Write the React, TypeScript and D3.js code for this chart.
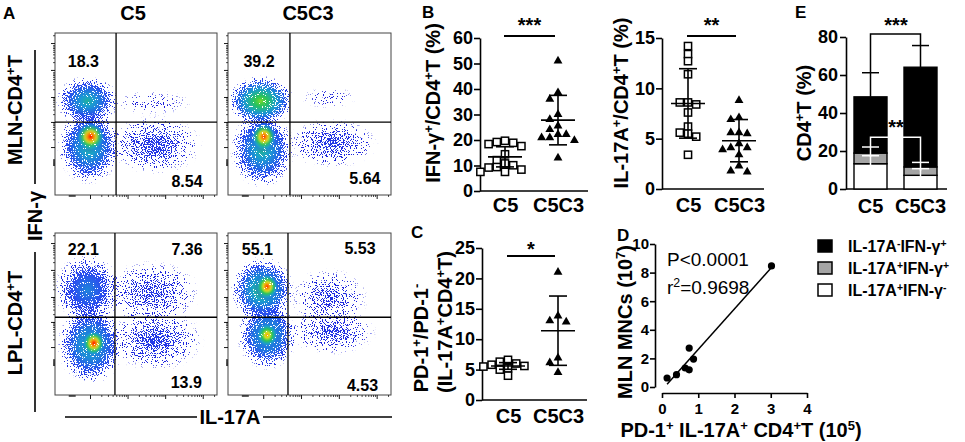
import { useEffect, useRef } from 'react'
import * as d3 from 'd3'

const FONT = "'Liberation Sans', Arial, Helvetica, sans-serif"

// ---------- A: flow plots, populations as [x, y, rx, ry, peak] in plot fractions
const flowGroups = ['C5', 'C5C3']
const mlnC5Pops = [
  [0.2, 0.58, 0.2, 0.16, 0.4],
  [0.21, 0.3, 0.2, 0.24, 0.42],
  [0.22, 0.36, 0.1, 0.1, 1.0],
  [0.62, 0.31, 0.3, 0.19, 0.12],
  [0.6, 0.57, 0.26, 0.08, 0.022],
]
const mlnC5C3Pops = [
  [0.2, 0.58, 0.21, 0.16, 0.58],
  [0.21, 0.28, 0.2, 0.24, 0.42],
  [0.22, 0.36, 0.09, 0.1, 0.95],
  [0.64, 0.32, 0.29, 0.16, 0.11],
  [0.62, 0.6, 0.18, 0.07, 0.022],
]
const lplC5Pops = [
  [0.2, 0.65, 0.21, 0.23, 0.28],
  [0.22, 0.31, 0.21, 0.25, 0.42],
  [0.24, 0.32, 0.08, 0.09, 1.0],
  [0.6, 0.63, 0.31, 0.21, 0.1],
  [0.62, 0.34, 0.31, 0.2, 0.12],
]
const lplC5C3Pops = [
  [0.21, 0.65, 0.2, 0.21, 0.48],
  [0.24, 0.37, 0.19, 0.22, 0.42],
  [0.24, 0.67, 0.08, 0.09, 0.95],
  [0.24, 0.37, 0.08, 0.09, 0.8],
  [0.62, 0.6, 0.25, 0.19, 0.085],
  [0.64, 0.39, 0.28, 0.15, 0.1],
]
const mlnGates = [[0.377, 0.45], [0.38, 0.45]]
const lplGates = [[0.37, 0.48], [0.368, 0.48]]
const mlnUL = ['18.3', '39.2']
const mlnLR = ['8.54', '5.64']
const lplUL = ['22.1', '55.1']
const lplUR = ['7.36', '5.53']
const lplLR = ['13.9', '4.53']
const flowMajorX = [0.216, 0.448, 0.68, 0.912]
const flowMajorY = [0.296, 0.451, 0.605, 0.772, 0.938]

// ---------- B: IFN-γ+ and IL-17A+ of CD4+ T
const cats = ['C5', 'C5C3']
const bIfnC5 = [18.9, 19.7, 19.2, 18.4, 17.6, 14.4, 12.1, 10.8, 9.2, 9.4, 8.4, 7.5, 7.5, 10.1]
const bIfnC5C3 = [51.4, 39, 36.4, 30.4, 28.5, 25.9, 24.5, 22.6, 22.6, 21.3, 21.3, 20.2, 13.4]
const bIfnMean = [13.4, 27.8]
const bIfnSd = [3.95, 9.7]
const bIl17C5 = [14.2, 13.4, 12.7, 11.4, 8.4, 8.6, 8.6, 7.6, 6.2, 5.5, 5.6, 5.2, 3.4]
const bIl17C5C3 = [8.9, 7.2, 7.0, 5.7, 5.7, 5.6, 4.6, 4.2, 4.2, 4.0, 3.5, 2.4, 1.8, 1.9]
const bIl17Mean = [8.5, 4.8]
const bIl17Sd = [3.45, 2.1]

// ---------- C: PD-1+/PD-1- of IL-17A+CD4+ T
const cC5 = [6.6, 6.3, 6.0, 5.8, 5.6, 5.5, 5.2, 5.0, 4.0]
const cC5C3 = [21.2, 14, 13, 13.2, 7.1, 6.3, 4.7]
const cMean = [5.6, 11.4]
const cSd = [0.55, 5.7]

// ---------- D: correlation
const dX = [0.14, 0.4, 0.64, 0.75, 0.75, 0.87, 3.02]
const dY = [0.63, 0.86, 1.33, 1.2, 2.72, 1.95, 8.47]

// ---------- E: stacked subsets
const eWhite = [13.3, 7.2]
const eWhiteSd = [4.2, 3.5]
const eGray = [5.6, 4.4]
const eGraySd = [3.2, 2.4]
const eBlack = [29.6, 52.5]
const eBlackSd = [12.7, 11.4]
const eSigLevels = [81.6, 27.2]
const eLegendSigns = [['-', '+'], ['+', '+'], ['+', '-']]
const eColors = ['#000', '#a5a5a5', '#fff']

const pseudo = d3.piecewise(d3.interpolateRgb, ['#1818d8', '#2a4cf0', '#1a9fd0', '#2cc84a', '#e4e41a', '#ff8800', '#ff1500'])

const Sup = ({ c }: { c: string }) => (
  <tspan baselineShift="super" fontSize="65%">{c}</tspan>
)

function Axis({ make, transform, fontSize = 18, width = 1.6, noDomain = false, weight = 'bold' }: any) {
  const ref = useRef<SVGGElement>(null)
  useEffect(() => {
    if (!ref.current) return
    const g = d3.select(ref.current)
    g.selectAll('*').remove()
    g.call(make())
    g.attr('font-family', FONT).attr('font-size', fontSize).attr('font-weight', weight)
    g.selectAll('path, line').attr('stroke', '#000').attr('stroke-width', width)
    g.selectAll('text').attr('fill', '#000')
    if (noDomain) g.select('.domain').remove()
  })
  return <g ref={ref} transform={transform} />
}

function swarm(values: number[], y: (v: number) => number, d: number) {
  const idx = d3.range(values.length).sort((a, b) => values[b] - values[a])
  const placed: { dx: number; py: number }[] = []
  const dx = values.map(() => 0)
  for (const i of idx) {
    const py = y(values[i])
    for (let k = 0; k < 30; k++) {
      const off = k === 0 ? 0 : Math.ceil(k / 2) * d * (k % 2 ? -1 : 1)
      if (placed.every((p) => (p.dx - off) ** 2 + (p.py - py) ** 2 >= d * d * 0.7)) {
        dx[i] = off
        placed.push({ dx: off, py })
        break
      }
    }
  }
  return dx
}

const triPath = d3.symbol(d3.symbolTriangle, 34)() as string

function DotPanel({ y, ax, end, cx, groups, means, sds, ticks, sig, labelPad }: any) {
  const x = d3.scalePoint<string>().domain(cats).range(cx)
  const base = y.range()[0]
  return (
    <g>
      <line x1={ax} x2={end} y1={base} y2={base} stroke="#000" strokeWidth={1.6} />
      <Axis make={() => d3.axisLeft(y).tickValues(ticks).tickSize(6).tickSizeOuter(0).tickPadding(1)} transform={`translate(${ax},0)`} />
      <Axis make={() => d3.axisBottom(x).tickSize(0).tickPadding(labelPad)} transform={`translate(0,${base})`} fontSize={20} noDomain />
      {groups.map((vals: number[], gi: number) => {
        const dx = swarm(vals, y, 8.2)
        const c = x(cats[gi]) as number
        return vals.map((v, i) =>
          gi === 0 ? (
            <rect key={`${gi}-${i}`} x={c + dx[i] - 3.6} y={y(v) - 3.6} width={7.2} height={7.2} fill="#fff" stroke="#000" strokeWidth={1.5} />
          ) : (
            <path key={`${gi}-${i}`} d={triPath} transform={`translate(${c + dx[i]},${y(v) + 1})`} fill="#000" />
          )
        )
      })}
      {means.map((m: number, gi: number) => {
        const c = x(cats[gi]) as number
        const hi = y(m + sds[gi])
        const lo = y(m - sds[gi])
        return (
          <g key={gi} stroke="#000" strokeWidth={1.6}>
            <line x1={c - 17} x2={c + 17} y1={y(m)} y2={y(m)} />
            <line x1={c} x2={c} y1={hi} y2={lo} />
            <line x1={c - 9} x2={c + 9} y1={hi} y2={hi} />
            <line x1={c - 9} x2={c + 9} y1={lo} y2={lo} />
          </g>
        )
      })}
      <line x1={cx[0] - 1} x2={cx[1] - 3} y1={sig.y} y2={sig.y} stroke="#000" strokeWidth={1.8} />
      <text x={(cx[0] + cx[1]) / 2 - 2} y={sig.y + sig.dy} textAnchor="middle" fontSize={20} fontWeight="bold">
        {sig.text}
      </text>
    </g>
  )
}

function FlowPlot({ id, x0, y0, w, h, gate, pops, labels }: any) {
  const fx = d3.scaleLinear().domain([0, 1]).range([x0, x0 + w])
  const fy = d3.scaleLinear().domain([0, 1]).range([y0 + h, y0])
  const order = pops.map((p: number[], i: number) => i).sort((a: number, b: number) => pops[a][4] - pops[b][4])
  const stops = d3.range(0, 1.0001, 1 / 10)
  const minorX = flowMajorX.flatMap((m) => d3.range(2, 10).map((k) => m + 0.232 * Math.log10(k))).filter((v) => v < 1)
  const minorY = flowMajorY.flatMap((m) => d3.range(2, 10).map((k) => m + 0.16 * Math.log10(k))).filter((v) => v < 1)
  const denseX = d3.range(0.085, 0.125, 0.006)
  const denseY = d3.range(0.185, 0.225, 0.006)
  return (
    <g>
      <defs>
        {pops.map((p: number[], i: number) => (
          <radialGradient key={i} id={`${id}-g${i}`}>
            {stops.map((o) => {
              const level = p[4] * Math.pow(1 - o, 0.9)
              const a = Math.min(1, 0.08 + level * 5) * (1 - Math.pow(o, 2))
              return <stop key={o} offset={o} stopColor={pseudo(Math.min(1, level))} stopOpacity={a} />
            })}
          </radialGradient>
        ))}
        <clipPath id={`${id}-clip`}>
          <rect x={x0} y={y0} width={w} height={h} />
        </clipPath>
      </defs>
      <rect x={x0} y={y0} width={w} height={h} fill="#fff" />
      <g clipPath={`url(#${id}-clip)`}>
        <g filter="url(#grain)">
          {order.map((i: number) => {
            const p = pops[i]
            return <ellipse key={i} cx={fx(p[0])} cy={fy(p[1])} rx={fx(p[2]) - fx(0)} ry={fy(0) - fy(p[3])} fill={`url(#${id}-g${i})`} />
          })}
        </g>
      </g>
      <rect x={x0} y={y0} width={w} height={h} fill="none" stroke="#444" strokeWidth={1} />
      <line x1={fx(gate[0])} x2={fx(gate[0])} y1={y0} y2={y0 + h} stroke="#000" strokeWidth={1.3} />
      <line x1={x0} x2={x0 + w} y1={fy(gate[1])} y2={fy(gate[1])} stroke="#000" strokeWidth={1.3} />
      <Axis make={() => d3.axisLeft(fy).tickValues(flowMajorY).tickSize(4).tickFormat(() => '')} transform={`translate(${x0},0)`} width={0.9} noDomain />
      <Axis make={() => d3.axisLeft(fy).tickValues(minorY.concat(denseY)).tickSize(2).tickFormat(() => '')} transform={`translate(${x0},0)`} width={0.7} noDomain />
      <Axis make={() => d3.axisBottom(fx).tickValues(flowMajorX).tickSize(4).tickFormat(() => '')} transform={`translate(0,${y0 + h})`} width={0.9} noDomain />
      <Axis make={() => d3.axisBottom(fx).tickValues(minorX.concat(denseX)).tickSize(2).tickFormat(() => '')} transform={`translate(0,${y0 + h})`} width={0.7} noDomain />
      {labels.map((l: any, i: number) => (
        <text key={i} x={x0 + l.fx * w} y={l.y} textAnchor="middle" fontSize={16} fontWeight="bold">
          {l.t}
        </text>
      ))}
    </g>
  )
}

export default function App() {
  // B, C scales
  const yIfn = d3.scaleLinear().domain([0, 60]).range([191, 38])
  const yIl17 = d3.scaleLinear().domain([0, 15]).range([189, 38])
  const yPd = d3.scaleLinear().domain([0, 25]).range([400, 248])

  // D scales
  const xD = d3.scaleLinear().domain([0, 4]).range([662, 807])
  const yD = d3.scaleLinear().domain([0, 10]).range([387, 244])
  const mx = d3.mean(dX) as number
  const my = d3.mean(dY) as number
  const slope = d3.sum(dX, (v, i) => (v - mx) * (dY[i] - my)) / d3.sum(dX, (v) => (v - mx) ** 2)
  const icpt = my - slope * mx
  const [lx0, lx1] = d3.extent(dX) as [number, number]

  // E scales
  const yE = d3.scaleLinear().domain([0, 80]).range([189, 37])
  const xE = d3.scaleBand<string>().domain(cats).range([846, 945]).paddingInner(0.34).paddingOuter(0.16)
  const table = cats.map((c, i) => ({ cat: c, white: eWhite[i], gray: eGray[i], black: eBlack[i] }))
  const series = d3.stack<any>().keys(['white', 'gray', 'black'])(table)
  const sdOf: Record<string, number[]> = { white: eWhiteSd, gray: eGraySd, black: eBlackSd }
  const fillOf: Record<string, string> = { white: '#fff', gray: '#a5a5a5', black: '#000' }
  const eCx = cats.map((c) => (xE(c) as number) + xE.bandwidth() / 2)
  const tops = cats.map((_, i) => series.map((s) => s[i][1] + sdOf[s.key][i]))

  const plots = [
    { id: 'mc5', x0: 55, y0: 33, pops: mlnC5Pops, gate: mlnGates[0], labels: [{ t: mlnUL[0], fx: 0.175, y: 67 }, { t: mlnLR[0], fx: 0.815, y: 187 }] },
    { id: 'mc53', x0: 228, y0: 33, pops: mlnC5C3Pops, gate: mlnGates[1], labels: [{ t: mlnUL[1], fx: 0.19, y: 67 }, { t: mlnLR[1], fx: 0.84, y: 184 }] },
    { id: 'lc5', x0: 55, y0: 233, pops: lplC5Pops, gate: lplGates[0], labels: [{ t: lplUL[0], fx: 0.175, y: 255 }, { t: lplUR[0], fx: 0.815, y: 255 }, { t: lplLR[0], fx: 0.81, y: 388 }] },
    { id: 'lc53', x0: 228, y0: 233, pops: lplC5C3Pops, gate: lplGates[1], labels: [{ t: lplUL[1], fx: 0.18, y: 255 }, { t: lplUR[1], fx: 0.81, y: 254 }, { t: lplLR[1], fx: 0.825, y: 391 }] },
  ]

  return (
    <svg width={965} height={442} viewBox="0 0 965 442" style={{ position: 'absolute', left: 0, top: 0, background: '#fff' }} fontFamily={FONT}>
      <defs>
        <filter id="grain" filterUnits="userSpaceOnUse" x={0} y={0} width={965} height={442} colorInterpolationFilters="sRGB">
          <feTurbulence type="fractalNoise" baseFrequency={0.9} numOctaves={2} seed={4} result="noise" />
          <feColorMatrix in="noise" type="matrix" values="0 0 0 0 0  0 0 0 0 0  0 0 0 0 0  2.5 0 0 0 -0.75" result="na" />
          <feComposite in="SourceAlpha" in2="na" operator="arithmetic" k1={0} k2={1} k3={1} k4={-0.5} result="sum" />
          <feColorMatrix in="sum" type="matrix" values="0 0 0 0 0  0 0 0 0 0  0 0 0 0 0  0 0 0 40 -20" result="mask" />
          <feComponentTransfer in="SourceGraphic" result="solid">
            <feFuncA type="table" tableValues="0 1 1 1 1 1 1 1 1 1" />
          </feComponentTransfer>
          <feComposite in="solid" in2="mask" operator="in" />
        </filter>
      </defs>

      {/* ---------- A ---------- */}
      <text x={3} y={19} fontSize={17} fontWeight="bold">A</text>
      {flowGroups.map((g, i) => (
        <text key={g} x={[133, 308][i]} y={20} textAnchor="middle" fontSize={20} fontWeight="bold">{g}</text>
      ))}
      {plots.map((p) => (
        <FlowPlot key={p.id} id={p.id} x0={p.x0} y0={p.y0} w={p.x0 === 55 ? 162 : 163} h={162} gate={p.gate} pops={p.pops} labels={p.labels} />
      ))}
      <text transform="translate(22,110) rotate(-90)" textAnchor="middle" fontSize={20} fontWeight="bold">
        MLN-CD4<Sup c="+" />T
      </text>
      <text transform="translate(22,323) rotate(-90)" textAnchor="middle" fontSize={20} fontWeight="bold">
        LPL-CD4<Sup c="+" />T
      </text>
      <line x1={35} x2={35} y1={50} y2={184} stroke="#000" strokeWidth={1.6} />
      <line x1={35} x2={35} y1={252} y2={412} stroke="#000" strokeWidth={1.6} />
      <text transform="translate(42,216) rotate(-90)" textAnchor="middle" fontSize={20} fontWeight="bold">IFN-γ</text>
      <line x1={65} x2={197} y1={417} y2={417} stroke="#000" strokeWidth={1.6} />
      <line x1={263} x2={392} y1={417} y2={417} stroke="#000" strokeWidth={1.6} />
      <text x={230} y={424} textAnchor="middle" fontSize={20} fontWeight="bold">IL-17A</text>

      {/* ---------- B ---------- */}
      <text x={422} y={18} fontSize={17} fontWeight="bold">B</text>
      <DotPanel y={yIfn} ax={480} end={588} cx={[505, 558]} groups={[bIfnC5, bIfnC5C3]} means={bIfnMean} sds={bIfnSd} ticks={d3.range(0, 61, 10)} sig={{ y: 36, dy: -4, text: '***' }} labelPad={7} />
      <text transform="translate(440,103) rotate(-90)" textAnchor="middle" fontSize={20} fontWeight="bold">
        IFN-γ<Sup c="+" />/CD4<Sup c="+" />T (%)
      </text>
      <DotPanel y={yIl17} ax={662} end={764} cx={[688, 739]} groups={[bIl17C5, bIl17C5C3]} means={bIl17Mean} sds={bIl17Sd} ticks={[0, 5, 10, 15]} sig={{ y: 36, dy: -4, text: '**' }} labelPad={9} />
      <text transform="translate(628,103) rotate(-90)" textAnchor="middle" fontSize={20} fontWeight="bold">
        IL-17A<Sup c="+" />/CD4<Sup c="+" />T (%)
      </text>

      {/* ---------- C ---------- */}
      <text x={411} y={238} fontSize={17} fontWeight="bold">C</text>
      <DotPanel y={yPd} ax={482} end={587} cx={[508, 558]} groups={[cC5, cC5C3]} means={cMean} sds={cSd} ticks={d3.range(0, 26, 5)} sig={{ y: 256, dy: 0, text: '*' }} labelPad={9} />
      <text transform="translate(428,338) rotate(-90)" textAnchor="middle" fontSize={20} fontWeight="bold">
        PD-1<Sup c="+" />/PD-1<Sup c="-" />
      </text>
      <text transform="translate(452,322) rotate(-90)" textAnchor="middle" fontSize={20} fontWeight="bold">
        (IL-17A<Sup c="+" />CD4<Sup c="+" />T)
      </text>

      {/* ---------- D ---------- */}
      <text x={617} y={241} fontSize={17} fontWeight="bold">D</text>
      <Axis make={() => d3.axisLeft(yD).tickValues(d3.range(0, 11, 2)).tickSize(5).tickSizeOuter(0).tickPadding(1).tickFormat(d3.format('d'))} transform="translate(655,0)" fontSize={15} />
      <Axis make={() => d3.axisBottom(xD).tickValues(d3.range(0, 5)).tickSize(5).tickSizeOuter(0).tickPadding(5).tickFormat(d3.format('d'))} transform="translate(0,393)" fontSize={15} />
      <line x1={xD(lx0)} x2={xD(lx1)} y1={yD(icpt + slope * lx0)} y2={yD(icpt + slope * lx1)} stroke="#000" strokeWidth={1.5} />
      {dX.map((v, i) => (
        <circle key={i} cx={xD(v)} cy={yD(dY[i])} r={3.6} fill="#000" />
      ))}
      <text x={667} y={266} fontSize={19}>P&lt;0.0001</text>
      <text x={667} y={294} fontSize={19}>
        r<Sup c="2" />=0.9698
      </text>
      <text transform="translate(632,322) rotate(-90)" textAnchor="middle" fontSize={20} fontWeight="bold">
        MLN MNCs (10<Sup c="7" />)
      </text>
      <text x={741} y={437} textAnchor="middle" fontSize={20} fontWeight="bold">
        PD-1<Sup c="+" /> IL-17A<Sup c="+" /> CD4<Sup c="+" />T (10<Sup c="5" />)
      </text>

      {/* ---------- E ---------- */}
      <text x={795} y={18} fontSize={17} fontWeight="bold">E</text>
      <Axis make={() => d3.axisLeft(yE).tickValues(d3.range(0, 81, 20)).tickSize(6).tickSizeOuter(0).tickPadding(2)} transform="translate(846,0)" />
      <line x1={846} x2={947} y1={yE(0)} y2={yE(0)} stroke="#000" strokeWidth={1.6} />
      <Axis make={() => d3.axisBottom(xE).tickSize(0).tickPadding(10)} transform={`translate(0,${yE(0)})`} fontSize={20} noDomain />
      {series.map((s) =>
        s.map((d, i) => (
          <rect key={`${s.key}-${i}`} x={xE(cats[i])} y={yE(d[1])} width={xE.bandwidth()} height={yE(d[0]) - yE(d[1])} fill={fillOf[s.key]} stroke="#000" strokeWidth={1.4} />
        ))
      )}
      {series.map((s) =>
        s.map((d, i) => {
          const hi = yE(d[1] + sdOf[s.key][i])
          const col = s.key === 'black' ? '#000' : '#fff'
          return (
            <g key={`e-${s.key}-${i}`} stroke={col} strokeWidth={1.5}>
              <line x1={eCx[i]} x2={eCx[i]} y1={yE(d[1]) + (s.key === 'black' ? 0 : 4)} y2={hi} />
              <line x1={eCx[i] - 8.5} x2={eCx[i] + 8.5} y1={hi} y2={hi} />
            </g>
          )
        })
      )}
      <path d={`M${eCx[0]},${yE(tops[0][2])}V${yE(eSigLevels[0])}H${eCx[1]}V${yE(tops[1][2])}`} fill="none" stroke="#000" strokeWidth={1.5} />
      <path d={`M${eCx[0]},${yE(tops[0][1])}V${yE(eSigLevels[1])}H${eCx[1]}V${yE(tops[1][1])}`} fill="none" stroke="#fff" strokeWidth={1.5} />
      <text x={896} y={32} textAnchor="middle" fontSize={20} fontWeight="bold">***</text>
      <text x={896} y={134} textAnchor="middle" fontSize={20} fontWeight="bold">**</text>
      <text transform="translate(811,113) rotate(-90)" textAnchor="middle" fontSize={20} fontWeight="bold">
        CD4<Sup c="+" />T (%)
      </text>
      {eLegendSigns.map((sg, i) => (
        <g key={i} transform={`translate(818,${240 + i * 22})`}>
          <rect x={0} y={0} width={14} height={12} fill={eColors[i]} stroke="#000" strokeWidth={1.5} />
          <text x={30} y={12} fontSize={16} fontWeight="bold">
            IL-17A<Sup c={sg[0]} />IFN-γ<Sup c={sg[1]} />
          </text>
        </g>
      ))}
    </svg>
  )
}
